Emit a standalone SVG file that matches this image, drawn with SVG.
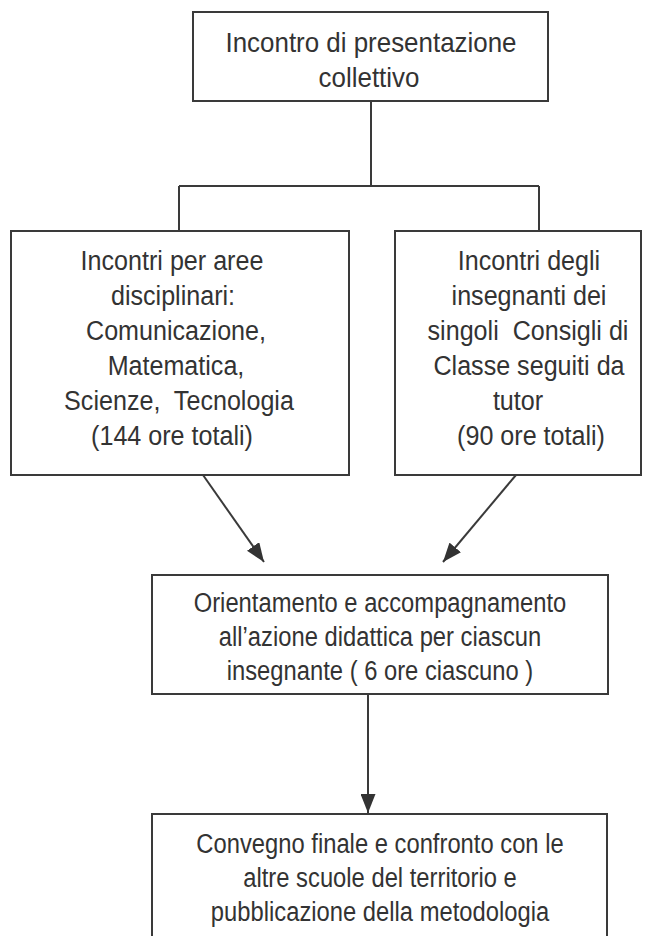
<svg xmlns="http://www.w3.org/2000/svg" width="652" height="936" viewBox="0 0 652 936">
<style>
.box{fill:#fff;stroke:#3a3a3a;stroke-width:2}
.ln{fill:none;stroke:#3a3a3a;stroke-width:2}
.t{font-family:"Liberation Sans",Arial,sans-serif;font-size:28px;fill:#333;text-anchor:middle}
</style>
<defs>
<marker id="ah" viewBox="0 0 10 10" refX="10" refY="5" markerWidth="19" markerHeight="15" markerUnits="userSpaceOnUse" orient="auto" preserveAspectRatio="none">
<path d="M0,0 L10,5 L0,10 z" fill="#333"/>
</marker>
</defs>
<rect width="652" height="936" fill="#fff"/>
<g id="connectors">
<path class="ln" d="M371,101 V186 M179,186 H539 M179,186 V232 M539,186 V232"/>
<line class="ln" x1="203" y1="475" x2="264" y2="562" marker-end="url(#ah)"/>
<line class="ln" x1="516" y1="475" x2="443" y2="562" marker-end="url(#ah)"/>
<line class="ln" x1="368" y1="694" x2="368" y2="813" marker-end="url(#ah)"/>
</g>
<g id="n1">
<rect class="box" x="193" y="12" width="355" height="89"/>
<text class="t" transform="translate(371,0) scale(0.926,1)" y="52">Incontro di presentazione</text>
<text class="t" transform="translate(369,0) scale(0.926,1)" y="87">collettivo</text>
</g>
<g id="n2">
<rect class="box" x="11" y="231" width="338" height="244"/>
<text class="t" transform="translate(172,0) scale(0.897,1)" y="270">Incontri per aree</text>
<text class="t" transform="translate(173,0) scale(0.897,1)" y="305">disciplinari:</text>
<text class="t" transform="translate(176,0) scale(0.897,1)" y="340">Comunicazione,</text>
<text class="t" transform="translate(176,0) scale(0.897,1)" y="375">Matematica,</text>
<text class="t" transform="translate(179,0) scale(0.897,1)" y="410" xml:space="preserve">Scienze,  Tecnologia</text>
<text class="t" transform="translate(172,0) scale(0.897,1)" y="445">(144 ore totali)</text>
</g>
<g id="n3">
<rect class="box" x="395" y="231" width="246" height="244"/>
<text class="t" transform="translate(529,0) scale(0.897,1)" y="270">Incontri degli</text>
<text class="t" transform="translate(529,0) scale(0.897,1)" y="305">insegnanti dei</text>
<text class="t" transform="translate(528,0) scale(0.897,1)" y="340" xml:space="preserve">singoli  Consigli di</text>
<text class="t" transform="translate(529,0) scale(0.897,1)" y="375">Classe seguiti da</text>
<text class="t" transform="translate(518,0) scale(0.897,1)" y="410">tutor</text>
<text class="t" transform="translate(531,0) scale(0.897,1)" y="445">(90 ore totali)</text>
</g>
<g id="n4">
<rect class="box" x="152" y="575" width="456" height="119"/>
<text class="t" transform="translate(380,0) scale(0.849,1)" y="612">Orientamento e accompagnamento</text>
<text class="t" transform="translate(380,0) scale(0.849,1)" y="646">all’azione didattica per ciascun</text>
<text class="t" transform="translate(380,0) scale(0.849,1)" y="680">insegnante ( 6 ore ciascuno )</text>
</g>
<g id="n5">
<rect class="box" x="152" y="814" width="455" height="140"/>
<text class="t" transform="translate(380,0) scale(0.849,1)" y="853">Convegno finale e confronto con le</text>
<text class="t" transform="translate(380,0) scale(0.849,1)" y="887">altre scuole del territorio e</text>
<text class="t" transform="translate(380,0) scale(0.849,1)" y="921">pubblicazione della metodologia</text>
</g>
</svg>
